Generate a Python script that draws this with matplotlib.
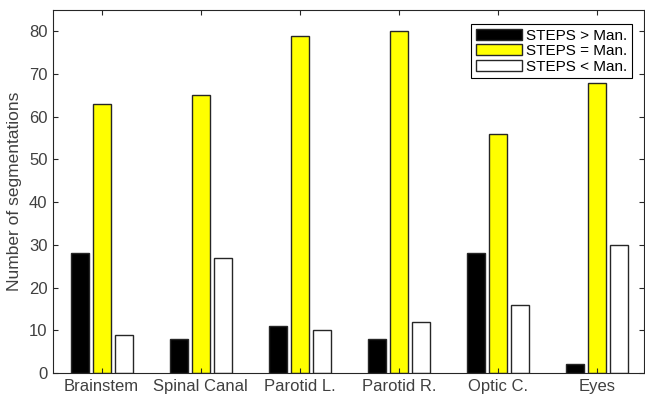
import numpy as np
import matplotlib
matplotlib.use('Agg')
import matplotlib.pyplot as plt

plt.rcParams['font.family'] = ['Liberation Sans', 'DejaVu Sans']

# Data
categories = ['Brainstem', 'Spinal Canal', 'Parotid L.', 'Parotid R.', 'Optic C.', 'Eyes']
steps_better = [28, 8, 11, 8, 28, 2]
steps_equal = [63, 65, 79, 80, 56, 68]
steps_worse = [9, 27, 10, 12, 16, 30]
series_labels = ['STEPS > Man.', 'STEPS = Man.', 'STEPS < Man.']

gray = '#404040'
x = np.arange(1, len(categories) + 1)

fig = plt.figure(figsize=(6.45, 3.99), dpi=100)
ax = fig.add_axes([0.0822, 0.0652, 0.916, 0.91])

w = 0.18
off = 0.222
ax.bar(x - off, steps_better, width=w, color='black', edgecolor='#262626', linewidth=1, label=series_labels[0])
ax.bar(x, steps_equal, width=w, color='#ffff00', edgecolor='#262626', linewidth=1, label=series_labels[1])
ax.bar(x + off, steps_worse, width=w, color='white', edgecolor='#262626', linewidth=1, label=series_labels[2])

ax.set_xlim(0.51, 6.47)
ax.set_ylim(0, 85)
ax.set_xticks(x)
ax.set_xticklabels(categories)
ax.set_yticks(np.arange(0, 81, 10))
ax.tick_params(direction='in', length=3.6, width=0.8, colors='#262626', labelcolor=gray,
               labelsize=12, top=True, right=True, pad=4)
for s in ax.spines.values():
    s.set_color('#262626')
    s.set_linewidth(0.8)

ax.set_ylabel('Number of segmentations', fontsize=12.5, color=gray, labelpad=5)

leg = ax.legend(loc='upper right', bbox_to_anchor=(0.980, 0.961), borderaxespad=0,
                fancybox=False, edgecolor='black', framealpha=1, fontsize=11,
                handlelength=3.0, handleheight=0.7, labelspacing=0.1,
                handletextpad=0.3, borderpad=0.3)
leg.get_frame().set_linewidth(0.8)
for t in leg.get_texts():
    t.set_color('black')

fig.savefig('out.png', dpi=100)
